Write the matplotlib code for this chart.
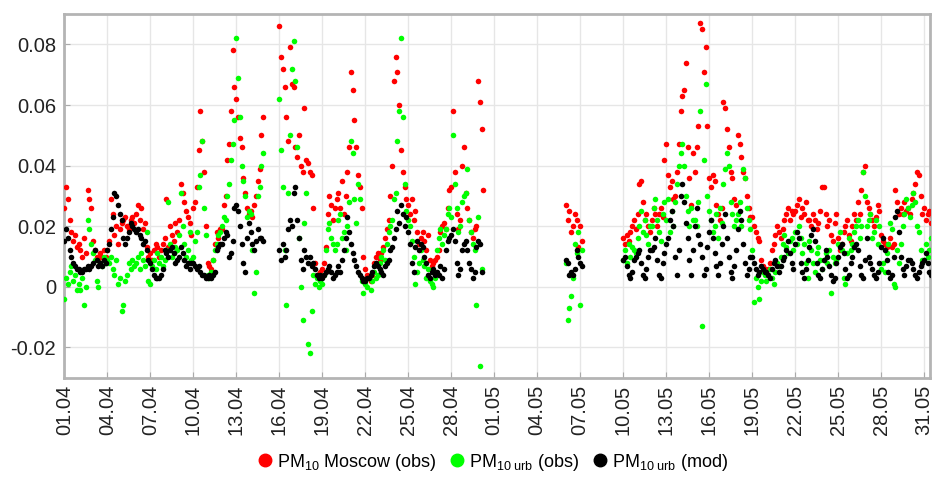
import numpy as np
import pandas as pd
import matplotlib
matplotlib.use('Agg')
import matplotlib.pyplot as plt
import matplotlib.dates as mdates
from matplotlib.lines import Line2D

plt.rcParams['font.family'] = ['Liberation Sans', 'DejaVu Sans']
plt.rcParams['mathtext.fontset'] = 'custom'
plt.rcParams['mathtext.rm'] = 'Liberation Sans'
plt.rcParams['mathtext.it'] = 'Liberation Sans:italic'

# 3-hourly values, in 1e-3 units, one row per day (01.04 .. 31.05)
start = '2016-04-01'
n_days = 61
step = '3h'
NA = [None] * 8

moscow_obs = [
    [26, 33, 29, 22, 18, 15, 17, 13],  # 01.04
    [14, 12, 10, 16, 11, 32, 29, 26],
    [15, 12, 10, 9, 11, 10, 12, 10],
    [12, 15, 29, 24, 17, 20, 14, 19],
    [21, 22, 23, 20, 19, 22, 23, 21],
    [24, 27, 22, 26, 19, 21, 13, 10],
    [11, 9, 12, 14, 13, 10, 12, 14],
    [16, 29, 13, 20, 17, 15, 21, 18],
    [22, 34, 31, 28, 25, 23, 21, 17],
    [26, 28, 33, 45, 58, 48, 38, 20],
    [8, 7, 6, 9, 14, 18, 16, 19],  # 11.04
    [19, 27, 30, 42, 47, 58, 78, 66],
    [62, 56, 49, 46, 36, 31, 26, 24],
    [25, 23, 27, 30, 35, 39, 50, 56],
    NA,
    [86, 76, 72, 66, 56, 48, 79, 67],
    [66, 46, 43, 50, 40, 38, 59, 42],
    [41, 38, 37, 26, 8, 4, 3, 5],
    [6, 8, 13, 24, 30, 27, 22, 26],
    [29, 31, 26, 35, 24, 30, 38, 46],
    [71, 65, 55, 46, 37, 33, 26, 10],  # 21.04
    [6, 4, 3, 2, 4, 8, 10, 11],
    [9, 11, 13, 16, 19, 22, 30, 40],
    [68, 76, 71, 60, 45, 38, 33, 29],
    [27, 24, 29, 22, 25, 18, 14, 16],
    [18, 15, 12, 17, 9, 7, 8, 9],
    [10, 12, 18, 20, 21, 19, 26, 32],
    [33, 58, 38, 24, 19, 22, 40, 46],
    [31, 26, 22, 18, 16, 19, 20, 68],
    [61, 52, 32, None, None, None, None, None],
    NA, NA, NA, NA, NA,  # 01.05 - 05.05
    [27, 22, 25, 18, 20, 24, 22, 13],
    [20, 15, None, None, None, None, None, None],
    NA, NA,
    [16, 14, 17, 15, 18, 20, 22, 19],  # 10.05
    [24, 34, 35, 28, 22, 24, 20, 18],
    [22, 26, 24, 20, 24, 26, 23, 42],
    [47, 37, 33, 35, 29, 30, 38, 47],
    [58, 63, 65, 74, 46, 36, 27, 44],
    [38, 46, 53, 87, 85, 71, 79, 53],
    [36, 33, 37, 35, 27, 24, 22, 26],
    [61, 59, 52, 46, 38, 36, 29, 27],
    [50, 47, 43, 38, 36, 30, 26, 23],
    [23, 20, 18, 16, 15, 9, 7, 6],
    [5, 6, 8, 12, 14, 17, 20, 18],  # 20.05
    [16, 19, 22, 24, 26, 22, 25, 24],
    [25, 27, 29, 23, 26, 24, 28, 22],
    [22, 20, 24, 22, 19, 21, 25, 33],
    [33, 24, 20, 22, 17, 15, 21, 24],
    [16, 12, 14, 18, 20, 22, 17, 15],
    [20, 24, 22, 28, 24, 32, 38, 40],
    [28, 26, 24, 22, 20, 23, 27, 25],
    [17, 15, 14, 13, 14, 16, 13, 14],
    [32, 28, 24, 26, 24, 28, 25, 26],
    [24, 29, 31, 34, 38, 37, 30, 24],  # 30.05
    [26, 22, 24, 25, 21, 23, 20, 22],
]

urb_obs = [
    [-4, 3, 1, 5, 7, 2, 4, -1],  # 01.04
    [1, -1, 3, -6, 0, 22, 19, 14],
    [11, 9, 2, 0, 8, 7, 10, 8],
    [9, 8, 10, 6, 4, 9, 1, 3],
    [-8, -6, 2, 4, 8, 6, 9, 7],
    [8, 10, 6, 11, 9, 7, 18, 2],
    [1, 7, 9, 6, 11, 8, 10, 7],
    [9, 12, 28, 14, 10, 11, 13, 12],
    [17, 31, 20, 14, 10, 12, 18, 9],
    [10, 15, 18, 33, 37, 48, 26, 17],
    [4, 3, 5, 9, 12, 14, 17, 18],  # 11.04
    [20, 23, 22, 30, 34, 42, 47, 55],
    [82, 69, 56, 40, 35, 30, 23, 25],
    [24, 12, -2, 5, 30, 33, 40, 44],
    NA,
    [62, 45, 33, 12, -6, 31, 50, 72],
    [81, 68, 46, 16, 0, -11, 21, 31],
    [-19, -22, -8, 4, 1, 3, 0, 2],
    [1, 4, 12, 19, 21, 16, 14, 12],
    [14, 22, 24, 16, 18, 12, 20, 28],
    [48, 44, 29, 21, 34, 29, 2, -2],  # 21.04
    [1, 0, 3, -1, 2, 5, 3, 4],
    [8, 10, 12, 9, 14, 18, 20, 22],
    [29, 31, 48, 58, 82, 56, 34, 25],
    [22, 20, 15, 10, 1, 5, 8, 12],
    [9, 7, 3, 6, 2, 1, 0, 3],
    [12, 16, 19, 14, 17, 19, 24, 26],
    [23, 50, 34, 26, 18, 20, 28, 30],
    [31, 39, 22, 18, 14, 12, -6, 23],
    [-26, 6, None, None, None, None, None, None],
    NA, NA, NA, NA, NA,  # 01.05 - 05.05
    [8, -11, -7, -3, 3, 14, 11, 18],
    [-6, 12, None, None, None, None, None, None],
    NA, NA,
    [9, 12, 8, 14, 10, 13, 12, 11],  # 10.05
    [16, 20, 25, 18, 22, 17, 14, 20],
    [20, 26, 29, 22, 18, 15, 24, 28],
    [22, 29, 18, 25, 20, 28, 34, 40],
    [44, 47, 40, 30, 25, 20, 26, 22],
    [22, 20, 28, 58, -13, 42, 67, 30],
    [25, 22, 18, 20, 24, 16, 26, 21],
    [34, 39, 44, 40, 28, 24, 20, 22],
    [24, 28, 20, 39, 36, 26, 22, 19],
    [12, -5, 3, 0, -4, 2, 5, 4],
    [2, 4, 6, 3, 1, 5, 8, 7],  # 20.05
    [10, 14, 17, 13, 11, 15, 16, 12],
    [18, 14, 20, 16, 11, 14, 8, 3],
    [15, 12, 8, 5, 11, 13, 9, 6],
    [9, 11, 8, 12, -2, 10, 8, 9],
    [14, 18, 12, 3, 1, 11, 16, 12],
    [14, 18, 20, 22, 16, 20, 38, 30],
    [20, 22, 24, 16, 18, 22, 14, 20],
    [6, 8, 5, 11, 14, 21, 19, 1],
    [0, 12, 8, 14, 20, 24, 29, 26],
    [23, 27, 31, 28, 20, 18, 12, 9],  # 30.05
    [9, 14, 10, 12, 16, 13, 11, 10],
]

urb_mod = [
    [15, 19, 16, 12, 10, 8, 7, 6],  # 01.04
    [6, 5, 5, 6, 6, 7, 6, 7],
    [8, 12, 9, 7, 8, 7, 9, 8],
    [12, 14, 19, 23, 31, 30, 27, 24],
    [22, 16, 14, 16, 18, 21, 20, 19],
    [18, 19, 17, 16, 14, 15, 12, 9],
    [8, 6, 4, 3, 3, 3, 4, 6],
    [12, 11, 10, 12, 13, 11, 8, 9],
    [10, 13, 11, 9, 7, 8, 6, 8],
    [8, 7, 6, 7, 5, 4, 4, 3],
    [3, 4, 3, 4, 5, 12, 13, 14],  # 11.04
    [14, 16, 18, 17, 10, 11, 15, 26],
    [27, 25, 20, 14, 8, 5, 16, 21],
    [18, 14, 12, 15, 19, 16, 16, 15],
    NA,
    [12, 9, 14, 10, 12, 19, 22, 20],
    [31, 33, 22, 16, 9, 6, 12, 10],
    [8, 10, 7, 8, 6, 4, 3, 4],
    [3, 4, 5, 6, 7, 5, 3, 4],
    [5, 7, 5, 9, 12, 16, 23, 18],
    [14, 11, 9, 7, 5, 4, 3, 2],  # 21.04
    [2, 3, 3, 4, 5, 7, 8, 7],
    [6, 5, 4, 7, 8, 9, 12, 13],
    [16, 19, 25, 21, 27, 24, 20, 23],
    [18, 14, 8, 5, 13, 15, 12, 14],
    [13, 10, 8, 4, 3, 5, 6, 4],
    [5, 4, 7, 3, 6, 12, 15, 16],
    [17, 19, 15, 8, 4, 6, 12, 14],
    [15, 12, 8, 6, 3, 5, 13, 15],
    [14, 5, None, None, None, None, None, None],
    NA, NA, NA, NA, NA,  # 01.05 - 05.05
    [9, 8, 4, 5, 4, 6, 12, 10],
    [8, 7, None, None, None, None, None, None],
    NA, NA,
    [9, 10, 7, 4, 3, 5, 9, 10],  # 10.05
    [11, 12, 8, 4, 3, 6, 10, 12],
    [12, 13, 16, 9, 4, 3, 8, 11],
    [14, 16, 22, 25, 20, 10, 4, 12],
    [30, 34, 28, 21, 16, 9, 4, 12],
    [20, 26, 17, 14, 10, 4, 6, 13],
    [18, 22, 16, 11, 7, 4, 8, 14],
    [20, 24, 16, 10, 5, 3, 7, 12],
    [19, 25, 22, 14, 8, 4, 6, 10],
    [10, 8, 6, 4, 5, 7, 6, 5],
    [5, 4, 3, 6, 8, 9, 7, 5],  # 20.05
    [7, 9, 10, 12, 15, 11, 8, 6],
    [14, 18, 16, 8, 5, 3, 6, 9],
    [13, 17, 19, 15, 8, 4, 3, 6],
    [9, 12, 10, 7, 4, 2, 3, 8],
    [10, 13, 14, 11, 6, 3, 4, 8],
    [10, 13, 14, 12, 7, 4, 3, 9],
    [16, 10, 8, 6, 4, 3, 5, 8],
    [13, 16, 12, 9, 5, 3, 4, 10],
    [23, 25, 18, 10, 6, 4, 7, 9],
    [9, 8, 6, 4, 3, 5, 7, 8],  # 30.05
    [9, 11, 8, 5, 4, 6, 8, 9],
]

y_ticks = [-0.02, 0, 0.02, 0.04, 0.06, 0.08]
y_labels = ['-0.02', '0', '0.02', '0.04', '0.06', '0.08']
labels = ['PM$_{\\mathrm{10}}$ Moscow (obs)',
          'PM$_{\\mathrm{10\\ urb}}$ (obs)',
          'PM$_{\\mathrm{10\\ urb}}$ (mod)']
colors = ['#ff0000', '#00ff00', '#000000']

times = pd.date_range(start, periods=n_days * 8, freq=step)

fig = plt.figure(figsize=(9.32, 4.79), dpi=100)
ax = fig.add_axes([0.069, 0.2115, 0.929, 0.759])

for rows, c in zip([moscow_obs, urb_obs, urb_mod], colors):
    vals = np.array(rows, dtype=float).ravel() / 1000
    ax.scatter(times, vals, s=16, color=c, linewidths=0, zorder=3)

ax.set_ylim(-0.03, 0.09)
ax.set_xlim(pd.Timestamp(start), pd.Timestamp(start) + pd.Timedelta(days=60.42))
ax.set_yticks(y_ticks)
ax.set_yticklabels(y_labels)
ax.xaxis.set_major_locator(mdates.DayLocator(bymonthday=range(1, 32, 3)))
ax.xaxis.set_major_formatter(mdates.DateFormatter('%d.%m'))
plt.setp(ax.get_xticklabels(), rotation=90)

ax.grid(True, color='#e6e6e6', linewidth=1)
ax.set_axisbelow(True)
ax.tick_params(direction='in', length=4, color='#aaaaaa', labelsize=14.5,
               labelcolor='#222222')
ax.tick_params(axis='y', pad=6)
ax.tick_params(axis='x', pad=5)
for sp in ax.spines.values():
    sp.set_color('#b4b4b4')
    sp.set_linewidth(2)

handles = [Line2D([], [], linestyle='none', marker='o', markersize=9,
                  markerfacecolor=c, markeredgecolor=c) for c in colors]
fig.legend(handles, labels, loc='center', bbox_to_anchor=(0.527, 0.035), ncol=3,
           frameon=False, fontsize=13, handletextpad=0.1, columnspacing=0.5,
           handlelength=1.2)

plt.savefig('out.png', dpi=100)
